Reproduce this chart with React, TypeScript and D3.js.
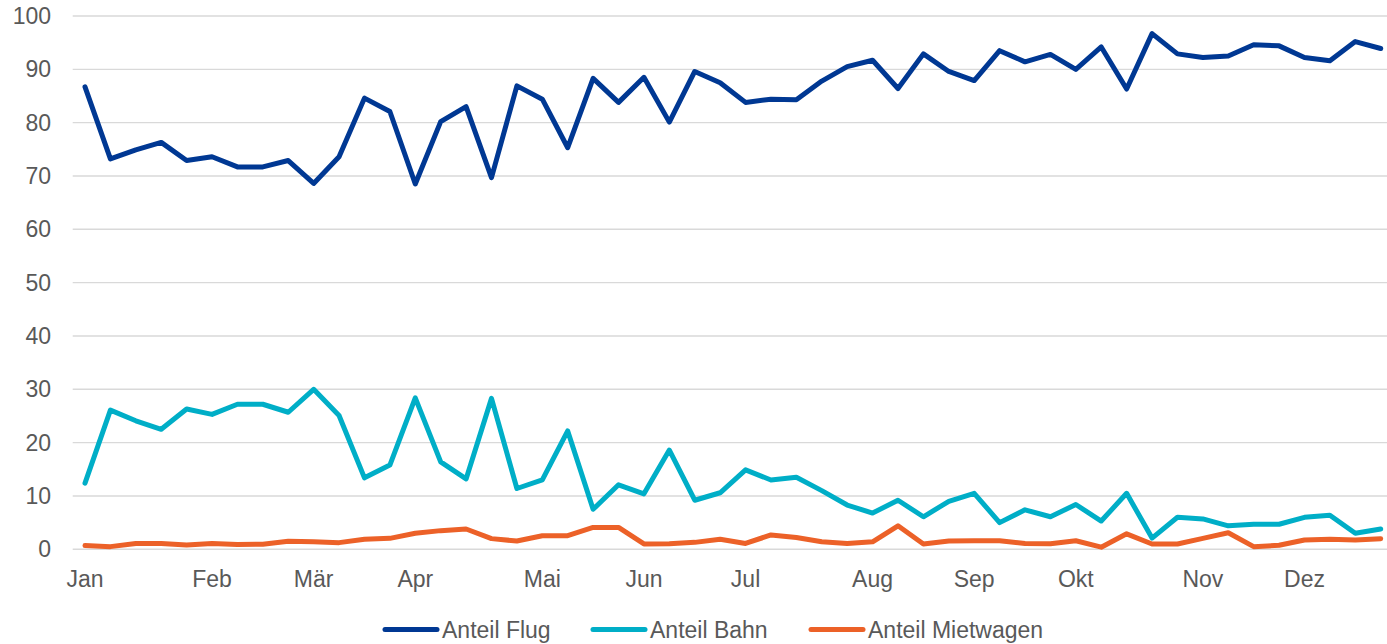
import React from "react";
import * as d3 from "d3";

// calendar weeks on the x axis
const weeks = [
  1, 2, 3, 4, 5, 6, 7, 8, 9, 10, 11, 12, 13, 14, 15, 16, 17, 18, 19, 20, 21, 22, 23, 24, 25, 26,
  27, 28, 29, 30, 31, 32, 33, 34, 35, 36, 37, 38, 39, 40, 41, 42, 43, 44, 45, 46, 47, 48, 49, 50, 51, 52,
];

const monthLabels = ["Jan", "Feb", "Mär", "Apr", "Mai", "Jun", "Jul", "Aug", "Sep", "Okt", "Nov", "Dez"];
const monthWeeks = [1, 6, 10, 14, 19, 23, 27, 32, 36, 40, 45, 49];
const yTicks = [0, 10, 20, 30, 40, 50, 60, 70, 80, 90, 100];

const anteilFlug = [
  86.7, 73.2, 74.9, 76.3, 72.9, 73.6, 71.7, 71.7, 72.9, 68.6, 73.6, 84.6, 82.1, 68.5, 80.2, 83.0, 69.7,
  86.9, 84.4, 75.3, 88.3, 83.8, 88.5, 80.1, 89.6, 87.5, 83.8, 84.4, 84.3, 87.8, 90.5, 91.7, 86.4, 92.9,
  89.6, 87.9, 93.5, 91.4, 92.8, 90.0, 94.2, 86.3, 96.7, 92.9, 92.2, 92.5, 94.6, 94.4, 92.2, 91.6, 95.2, 93.9,
];

const anteilBahn = [
  12.4, 26.1, 24.1, 22.5, 26.3, 25.3, 27.2, 27.2, 25.7, 30.0, 25.1, 13.4, 15.8, 28.4, 16.4, 13.2, 28.3,
  11.4, 13.0, 22.2, 7.5, 12.1, 10.4, 18.6, 9.2, 10.6, 14.9, 13.0, 13.5, 11.0, 8.3, 6.8, 9.2, 6.1,
  9.0, 10.5, 5.0, 7.4, 6.1, 8.4, 5.3, 10.5, 2.1, 6.0, 5.7, 4.4, 4.7, 4.7, 6.0, 6.4, 3.0, 3.8,
];

const anteilMietwagen = [
  0.7, 0.5, 1.1, 1.1, 0.8, 1.1, 0.9, 0.95, 1.5, 1.4, 1.25, 1.9, 2.05, 3.0, 3.5, 3.8, 2.0,
  1.55, 2.55, 2.55, 4.1, 4.1, 1.0, 1.05, 1.3, 1.9, 1.1, 2.7, 2.2, 1.4, 1.1, 1.4, 4.4, 1.0,
  1.55, 1.6, 1.6, 1.1, 1.05, 1.6, 0.4, 2.9, 1.0, 1.0, 2.05, 3.1, 0.5, 0.75, 1.75, 1.9, 1.75, 2.0,
];

const series = [
  { name: "Anteil Flug", values: anteilFlug, color: "#003893" },
  { name: "Anteil Bahn", values: anteilBahn, color: "#00AEC7" },
  { name: "Anteil Mietwagen", values: anteilMietwagen, color: "#EC6128" },
];

const W = 1387;
const H = 644;
const FONT = "'Liberation Sans', Arial, sans-serif";
const TEXT = "#595959";

export default function App() {
  const x = d3.scalePoint<number>().domain(weeks).range([85, 1380.7]);
  const y = d3.scaleLinear().domain([0, 100]).range([549.3, 16]);

  const line = d3
    .line<number>()
    .x((_, i) => x(weeks[i]) as number)
    .y((d) => y(d));

  // legend layout (swatch start, text start)
  const legendX = [383, 591, 809];

  return (
    <svg
      width={W}
      height={H}
      style={{ position: "absolute", left: 0, top: 0, background: "#fff" }}
      fontFamily={FONT}
    >
      {/* gridlines */}
      {yTicks.map((t) => (
        <line key={t} x1={72.7} x2={W} y1={y(t)} y2={y(t)} stroke="#D9D9D9" strokeWidth={1.4} />
      ))}

      {/* y labels */}
      {yTicks.map((t) => (
        <text
          key={t}
          x={51}
          y={y(t)}
          dy="0.35em"
          textAnchor="end"
          fontSize={23}
          fill={TEXT}
        >
          {t}
        </text>
      ))}

      {/* x labels */}
      {monthWeeks.map((w, i) => (
        <text key={w} x={x(w)} y={587} textAnchor="middle" fontSize={23} fill={TEXT}>
          {monthLabels[i]}
        </text>
      ))}

      {/* series */}
      {series.map((s) => (
        <path
          key={s.name}
          d={line(s.values) ?? ""}
          fill="none"
          stroke={s.color}
          strokeWidth={5}
          strokeLinejoin="round"
          strokeLinecap="round"
        />
      ))}

      {/* legend */}
      {series.map((s, i) => (
        <g key={s.name} transform={`translate(${legendX[i]},629.5)`}>
          <line x1={2} x2={54} y1={0} y2={0} stroke={s.color} strokeWidth={5} strokeLinecap="round" />
          <text x={59} y={0} dy="0.35em" fontSize={23} fill={TEXT}>
            {s.name}
          </text>
        </g>
      ))}
    </svg>
  );
}
